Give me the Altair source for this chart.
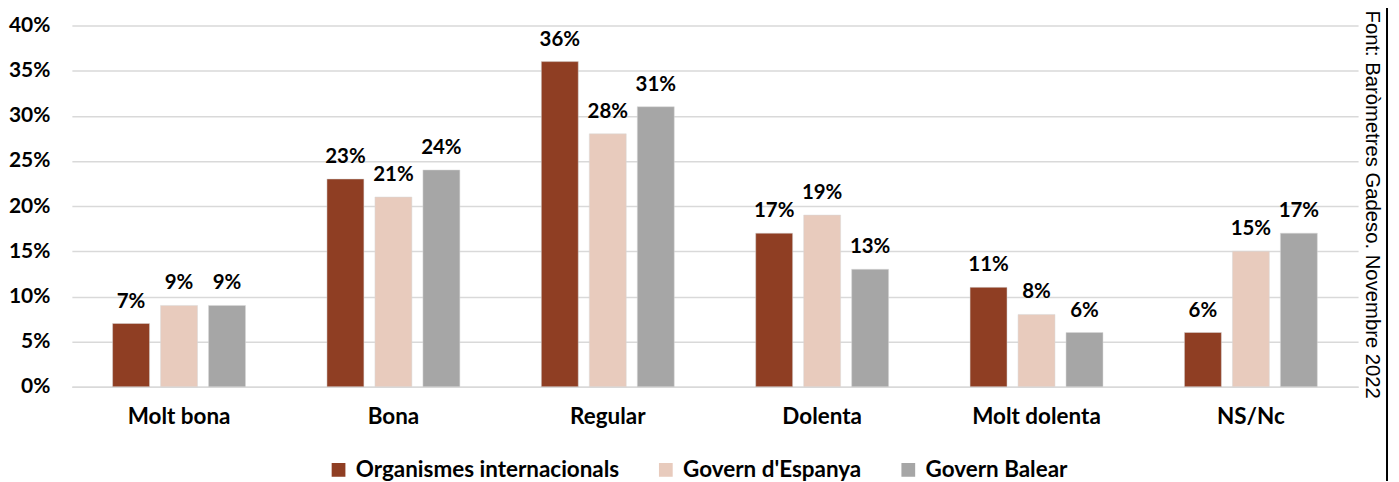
import altair as alt
import pandas as pd

categories = ["Molt bona", "Bona", "Regular", "Dolenta", "Molt dolenta", "NS/Nc"]
series = ["Organismes internacionals", "Govern d'Espanya", "Govern Balear"]
organismes = [7, 23, 36, 17, 11, 6]
espanya = [9, 21, 28, 19, 8, 15]
balear = [9, 24, 31, 13, 6, 17]
colors = ["#8F3E23", "#E8CBBD", "#A6A6A6"]
y_ticks = [0, 5, 10, 15, 20, 25, 30, 35, 40]
source = "Font: Baròmetres Gadeso. Novembre 2022"

rows = []
for name, vals in zip(series, [organismes, espanya, balear]):
    for c, v in zip(categories, vals):
        rows.append({"cat": c, "serie": name, "val": v, "label": f"{v}%"})
df = pd.DataFrame(rows)

FONT = "Lato"

x = alt.X("cat:N", sort=categories, title=None,
          scale=alt.Scale(paddingInner=0.38, paddingOuter=0.19),
          axis=alt.Axis(labelAngle=0, labelFont=FONT, labelFontSize=22.5, labelFontWeight="bold",
                        labelColor="#000000", labelPadding=19, ticks=False,
                        domainColor="#D9D9D9", domainWidth=1.5))
xo = alt.XOffset("serie:N", sort=series, scale=alt.Scale(paddingInner=0.23))
y = alt.Y("val:Q", title=None,
          scale=alt.Scale(domain=[0, 40], nice=False),
          axis=alt.Axis(values=y_ticks, labelExpr="datum.value + '%'", labelFont=FONT,
                        labelFontSize=21, labelFontWeight="bold", labelColor="#000000",
                        labelPadding=22, ticks=False, domain=False,
                        gridColor="#D9D9D9", gridWidth=1.5))

bars = alt.Chart(df).mark_bar(stroke="#D9D9D9", strokeWidth=0.5).encode(
    x=x, xOffset=xo, y=y,
    color=alt.Color("serie:N", sort=series,
                    scale=alt.Scale(domain=series, range=colors),
                    legend=alt.Legend(title=None, orient="none", direction="horizontal",
                                      legendX=256, legendY=434, symbolType="square",
                                      symbolSize=190, symbolStrokeWidth=0,
                                      labelFont=FONT, labelFontSize=22.5, labelFontWeight="bold",
                                      labelColor="#000000", columnPadding=35, labelOffset=6,
                                      labelLimit=500)),
)

labels = alt.Chart(df).mark_text(baseline="bottom", dy=-12, font=FONT, fontSize=20.5,
                                 fontWeight="bold", color="#000000").encode(
    x=alt.X("cat:N", sort=categories), xOffset=alt.XOffset("serie:N", sort=series),
    y="val:Q", text="label:N")

src = alt.Chart(pd.DataFrame({"t": [source]})).mark_text(
    angle=90, align="left", baseline="middle", font="Liberation Sans", fontSize=20.3,
    color="#000000").encode(x=alt.value(1303), y=alt.value(-15), text="t:N")

border = alt.Chart(pd.DataFrame({"a": [0]})).mark_rule(color="#000000", strokeWidth=2).encode(
    x=alt.value(1318), y=alt.value(-25), y2=alt.value(470))

chart = alt.layer(bars, labels, src, border).properties(
    width=1289, height=362,
    autosize=alt.AutoSizeParams(type="none"),
    padding={"left": 64, "top": 17, "right": 33, "bottom": 94},
).configure_view(stroke=None)

chart.save("out.html", embed_options={"renderer": "svg", "actions": False})
